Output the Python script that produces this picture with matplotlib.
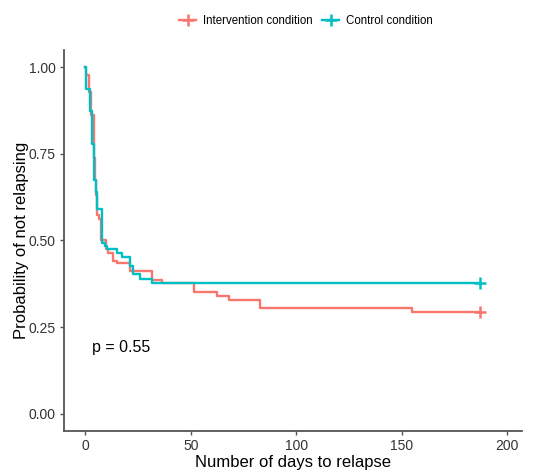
import numpy as np
import matplotlib.pyplot as plt
from matplotlib.lines import Line2D

plt.rcParams['font.family'] = ['Liberation Sans', 'DejaVu Sans']

# survival curves (day, probability after the step)
days_intervention = [0, 0.5, 1.6, 2.7, 4, 4.7, 5.0, 5.7, 6.6, 7.5, 10, 10.8, 13, 15, 21, 31.5, 36.5, 51.7, 62.4, 68.2, 82.6, 154.6, 187]
surv_intervention = [1.0, 0.979, 0.930, 0.863, 0.738, 0.676, 0.632, 0.575, 0.561, 0.500, 0.475, 0.465, 0.441, 0.436, 0.412, 0.385, 0.376, 0.352, 0.340, 0.327, 0.304, 0.293, 0.293]

days_control = [0, 0.5, 2, 3, 4, 5, 5.7, 7.8, 9.3, 10.5, 15, 17.3, 21.2, 22.8, 26, 31.5, 187]
surv_control = [1.0, 0.938, 0.875, 0.778, 0.676, 0.640, 0.590, 0.494, 0.484, 0.474, 0.463, 0.453, 0.425, 0.402, 0.390, 0.377, 0.377]

labels = ['Intervention condition', 'Control condition']
colors = ['#F8766D', '#00BFC4']
p_text = 'p = 0.55'

fig = plt.figure(figsize=(5.35, 4.72), dpi=100)
ax = fig.add_axes([0.120, 0.087, 0.856, 0.807])

series = [(days_intervention, surv_intervention), (days_control, surv_control)]
for (t, s), col in zip(series, colors):
    ax.step(t, s, where='post', color=col, lw=1.7)
    ax.plot(t[-1], s[-1], marker='+', color=col, markersize=8, mew=1.8)

ax.text(3, 0.19, p_text, fontsize=11.5, va='center', ha='left', color='black')

ax.set_xlim(-10, 207)
ax.set_ylim(-0.05, 1.05)
ax.set_xticks([0, 50, 100, 150, 200])
ax.set_yticks([0, 0.25, 0.5, 0.75, 1.0])
ax.set_yticklabels(['0.00', '0.25', '0.50', '0.75', '1.00'])

for side in ['top', 'right']:
    ax.spines[side].set_visible(False)
for side in ['left', 'bottom']:
    ax.spines[side].set_color('#555555')
    ax.spines[side].set_linewidth(1.3)
ax.tick_params(direction='out', length=3, width=1, color='#555555',
               labelsize=10, labelcolor='#333333', pad=3)

ax.set_xlabel('Number of days to relapse', fontsize=12, labelpad=1)
ax.set_ylabel('Probability of not relapsing', fontsize=12, labelpad=0)

handles = [Line2D([], [], color=c, lw=1.7, marker='+', markersize=8, mew=1.8) for c in colors]
fig.legend(handles, labels, loc='center', bbox_to_anchor=(306 / 535, 1 - 20.7 / 472),
           ncol=2, frameon=False, fontsize=8.3, handlelength=1.5,
           handletextpad=0.6, columnspacing=0.8)

fig.savefig('out.png', dpi=100)
